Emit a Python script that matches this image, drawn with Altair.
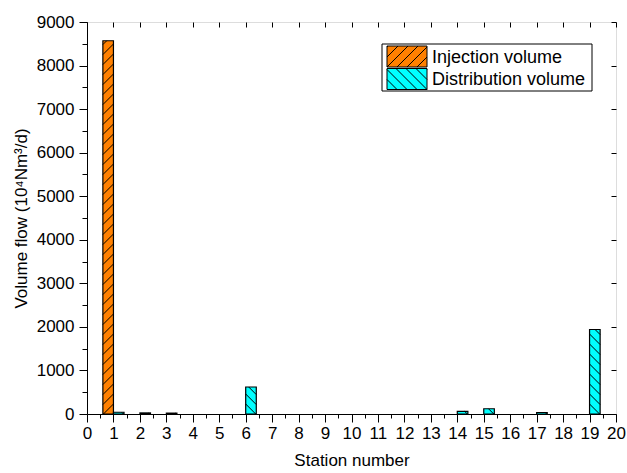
import altair as alt
import pandas as pd
import numpy as np

# ---------------- data ----------------
stations = list(range(1, 20))
injection = [8570, 0, 0, 0, 0, 0, 0, 0, 0, 0, 0, 0, 0, 0, 0, 0, 0, 0, 0]
distribution = [40, 25, 20, 0, 0, 620, 0, 0, 0, 0, 0, 0, 0, 60, 120, 0, 35, 0, 1940]
series_names = ["Injection volume", "Distribution volume"]
series_colors = ["#FF8000", "#00FFFF"]
x_ticks = [i * 0.5 for i in range(41)]
y_ticks = list(range(0, 9001, 500))
x_frame_ticks = list(range(0, 21))
y_frame_ticks = list(range(0, 9001, 1000))

# ---------------- style ----------------
W, H = 529, 392
X_MAX, Y_MAX = 20, 9000
BAR_W = 0.4
HATCH = 10.0  # px between hatch lines
FONT = "Liberation Sans"
kx = W / X_MAX
ky = H / Y_MAX

rows = []
for s, v in zip(stations, injection):
    if v > 0:
        rows.append(dict(series=series_names[0], x0=s - BAR_W, x1=s, v=v))
for s, v in zip(stations, distribution):
    if v > 0:
        rows.append(dict(series=series_names[1], x0=s, x1=s + BAR_W, v=v))
bars = pd.DataFrame(rows)

# hatch segments derived from the bars
segs = []
for r in rows:
    w = (r["x1"] - r["x0"]) * kx
    h = r["v"] * ky
    if r["series"] == series_names[0]:
        c = -w + HATCH
        while c < h:
            u0, u1 = max(0.0, -c), min(w, h - c)
            if u1 - u0 > 0.3:
                segs.append(dict(xa=r["x0"] + u0 / kx, ya=(u0 + c) / ky,
                                 xb=r["x0"] + u1 / kx, yb=(u1 + c) / ky))
            c += HATCH
    else:
        c = HATCH
        while c < h + w:
            u0, u1 = max(0.0, c - h), min(w, c)
            if u1 - u0 > 0.3:
                segs.append(dict(xa=r["x0"] + u0 / kx, ya=(c - u0) / ky,
                                 xb=r["x0"] + u1 / kx, yb=(c - u1) / ky))
            c += HATCH
hatch = pd.DataFrame(segs)


def symbol_path(kind):
    hw, hh = 2.0, 1.05
    parts = [f"M{-hw},{-hh}L{hw},{-hh}L{hw},{hh}L{-hw},{hh}Z"]
    step = 1.0
    c = -hw - hh + step
    while c < hw + hh:
        if kind == "/":
            a, b = max(-hw, -hh - c), min(hw, hh - c)
            if b - a > 0.05:
                parts.append(f"M{a:.3f},{-(a + c):.3f}L{b:.3f},{-(b + c):.3f}")
        else:
            a, b = max(-hw, c - hh), min(hw, c + hh)
            if b - a > 0.05:
                parts.append(f"M{a:.3f},{-(c - a):.3f}L{b:.3f},{-(c - b):.3f}")
        c += step
    return "".join(parts)


shape_paths = [symbol_path("/"), symbol_path("\\")]

xscale = alt.Scale(domain=[0, X_MAX], nice=False, zero=False)
yscale = alt.Scale(domain=[0, Y_MAX], nice=False)

x_axis = alt.Axis(
    values=x_ticks, orient="bottom",
    labelExpr="datum.value % 1 === 0 ? format(datum.value, 'd') : ''",
    tickSize={"condition": {"test": "datum.value % 1 === 0", "value": 8}, "value": 4},
    title="Station number", titleFontSize=17, titleFontWeight="normal", titlePadding=11,
    labelFontSize=17, labelPadding=3, labelFlush=False, labelOverlap=False,
    tickColor="black", domainColor="black", labelColor="black", titleColor="black",
    grid=False,
)
y_axis = alt.Axis(
    values=y_ticks, orient="left",
    labelExpr="datum.value % 1000 === 0 ? format(datum.value, 'd') : ''",
    tickSize={"condition": {"test": "datum.value % 1000 === 0", "value": 8}, "value": 5},
    title="Volume flow (10⁴Nm³/d)", titleFontSize=17, titleFontWeight="normal", titlePadding=6,
    labelFontSize=17, labelPadding=5, labelFlush=False, labelOverlap=False,
    tickColor="black", domainColor="black", labelColor="black", titleColor="black",
    grid=False,
)

bar_layer = alt.Chart(bars).mark_rect(stroke="black", strokeWidth=1.2).encode(
    x=alt.X("x0:Q", scale=xscale, axis=x_axis),
    x2="x1:Q",
    y=alt.Y("v:Q", scale=yscale, axis=y_axis),
    y2=alt.datum(0),
    fill=alt.condition(f"datum.series === '{series_names[0]}'",
                       alt.value(series_colors[0]), alt.value(series_colors[1])),
)

hatch_layer = alt.Chart(hatch).mark_rule(color="black", strokeWidth=1).encode(
    x=alt.X("xa:Q", scale=xscale,
            axis=alt.Axis(orient="top", values=x_frame_ticks, labels=False, domain=False,
                          tickSize=5, offset=-5, title=None, grid=False, tickColor="black")),
    x2="xb:Q",
    y=alt.Y("ya:Q", scale=yscale,
            axis=alt.Axis(orient="right", values=y_frame_ticks, labels=False, domain=False,
                          tickSize=5, offset=-5, title=None, grid=False, tickColor="black")),
    y2="yb:Q",
)

# ---------------- in-plot legend (pixel positions relative to plot area) ----------------
legend_df = pd.DataFrame({"series": series_names})
LEG_X0, LEG_X1, LEG_Y0, LEG_Y1 = 295, 505, 22, 69
SYM_X, LAB_X, ROW_Y0, ROW_DY = 320, 345, 34.5, 22.5

legend_layers = [
    alt.Chart(legend_df.head(1)).mark_rect(fill="white", stroke="black", strokeWidth=1).encode(
        x=alt.value(LEG_X0), x2=alt.value(LEG_X1), y=alt.value(LEG_Y0), y2=alt.value(LEG_Y1)
    )
]
for i, name in enumerate(series_names):
    sub = legend_df[legend_df["series"] == name]
    legend_layers.append(
        alt.Chart(sub).mark_point(shape=shape_paths[i], size=400, filled=True,
                                  fill=series_colors[i], stroke="black", strokeWidth=1,
                                  opacity=1).encode(
            x=alt.value(SYM_X), y=alt.value(ROW_Y0 + i * ROW_DY)
        )
    )
    legend_layers.append(
        alt.Chart(sub).mark_text(align="left", baseline="middle", fontSize=18, font=FONT,
                                 color="black").encode(
            x=alt.value(LAB_X), y=alt.value(ROW_Y0 + i * ROW_DY + 1), text="series:N"
        )
    )

chart = alt.layer(bar_layer, hatch_layer, *legend_layers).resolve_axis(
    x="independent", y="independent"
).properties(
    width=W, height=H,
    padding={"left": 87, "top": 22, "right": 11, "bottom": 59},
    autosize=alt.AutoSizeParams(type="none"),
    background="white",
).configure_view(stroke="black", strokeWidth=1).configure(font=FONT)

chart.save("out.html", embed_options={"renderer": "svg", "actions": False})
